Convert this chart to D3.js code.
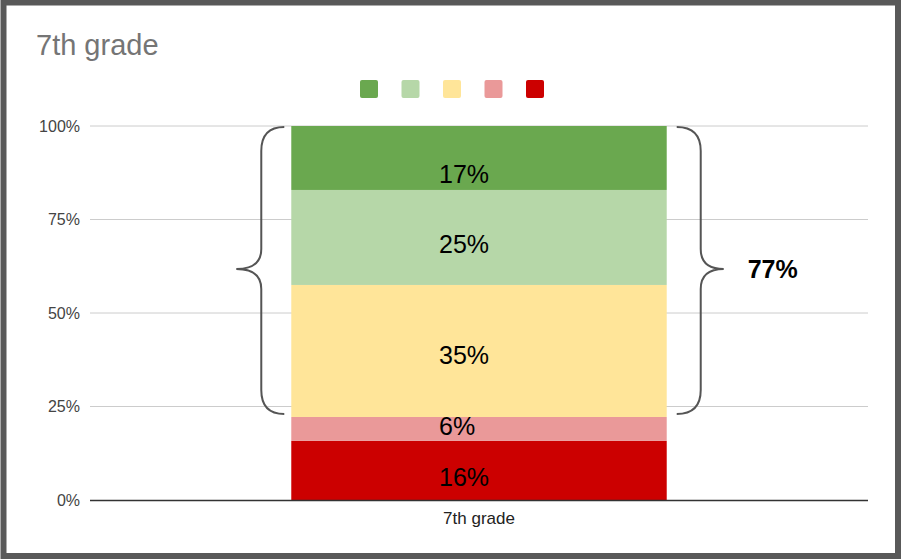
<!DOCTYPE html>
<html>
<head>
<meta charset="utf-8">
<script src="https://cdn.jsdelivr.net/npm/d3@7"></script>
<style>
  html, body { margin: 0; padding: 0; background: #fff; }
  svg { display: block; font-family: "Liberation Sans", Arial, sans-serif; }
</style>
</head>
<body>
<svg id="chart" width="903" height="560"></svg>
<script>
// ---- data ----
const categories = ["7th grade"];
const seriesNames = ["Level 1", "Level 2", "Level 3", "Level 4", "Level 5"]; // bottom to top
const seriesValues = [0.158, 0.064, 0.353, 0.254, 0.171];
const seriesLabels = ["16%", "6%", "35%", "25%", "17%"];
const seriesColors = ["#cc0000", "#ea9999", "#ffe599", "#b6d7a8", "#6aa84f"];
const yTicks = [0, 0.25, 0.5, 0.75, 1];
const yTickLabels = ["0%", "25%", "50%", "75%", "100%"];
const braceFromSeries = 2;   // brace spans series index 2..4
const braceLabel = "77%";
const title = "7th grade";

// ---- layout ----
const W = 903, H = 560;
const plot = { left: 90, right: 868, top: 126, bottom: 500 };
const labelNudge = [7, -3, 4, 7, 16];

const svg = d3.select("#chart");

// border
svg.append("rect")
  .attr("x", 3.5).attr("y", 2.5)
  .attr("width", 894.5).attr("height", 553.5)
  .attr("fill", "#fff")
  .attr("stroke", "#595959").attr("stroke-width", 6);

// title
svg.append("text")
  .attr("x", 36).attr("y", 55)
  .attr("font-size", 29).attr("fill", "#757575")
  .text(title);

const y = d3.scaleLinear().domain([0, 1]).range([plot.bottom, plot.top]);
const x = d3.scaleBand().domain(categories).range([plot.left, plot.right]).padding(0.349);

// gridlines
svg.append("g").selectAll("line")
  .data(yTicks.filter(d => d > 0))
  .join("line")
  .attr("x1", plot.left).attr("x2", plot.right)
  .attr("y1", d => y(d)).attr("y2", d => y(d))
  .attr("stroke", "#cccccc").attr("stroke-width", 1);

// y axis labels
const yAxis = d3.axisLeft(y).tickValues(yTicks).tickFormat((d, i) => yTickLabels[i]).tickSize(0).tickPadding(10);
const ya = svg.append("g").attr("transform", `translate(${plot.left},0)`).call(yAxis);
ya.select(".domain").remove();
ya.selectAll("text").attr("font-size", 16).attr("fill", "#444").attr("font-family", "Liberation Sans, Arial, sans-serif");

// stacked data
const row = { cat: categories[0] };
seriesNames.forEach((s, i) => row[s] = seriesValues[i]);
const stacked = d3.stack().keys(seriesNames)([row]);

const g = svg.append("g");
g.selectAll("rect")
  .data(stacked)
  .join("rect")
  .attr("x", d => x(d[0].data.cat))
  .attr("width", x.bandwidth())
  .attr("y", d => y(d[0][1]))
  .attr("height", d => y(d[0][0]) - y(d[0][1]))
  .attr("fill", (d, i) => seriesColors[i]);

// value labels (left-aligned, as in the reference)
g.selectAll("text.val")
  .data(stacked)
  .join("text")
  .attr("class", "val")
  .attr("x", d => x(d[0].data.cat) + x.bandwidth() / 2 - 40)
  .attr("y", (d, i) => (y(d[0][0]) + y(d[0][1])) / 2 + labelNudge[i])
  .attr("dy", "0.35em")
  .attr("text-anchor", "start")
  .attr("font-size", 25)
  .attr("fill", "#000")
  .text((d, i) => seriesLabels[i]);

// baseline
svg.append("line")
  .attr("x1", plot.left).attr("x2", plot.right)
  .attr("y1", y(0) + 0.5).attr("y2", y(0) + 0.5)
  .attr("stroke", "#333").attr("stroke-width", 1.3);

// x axis label
const xAxis = d3.axisBottom(x).tickSize(0).tickPadding(12);
const xa = svg.append("g").attr("transform", `translate(0,${plot.bottom})`).call(xAxis);
xa.select(".domain").remove();
xa.selectAll("text").attr("font-size", 17).attr("fill", "#222").attr("font-family", "Liberation Sans, Arial, sans-serif");

// legend
const legendOrder = seriesColors.slice().reverse();
svg.append("g").selectAll("rect")
  .data(legendOrder)
  .join("rect")
  .attr("x", (d, i) => 360 + i * 41.5)
  .attr("y", 80)
  .attr("width", 18).attr("height", 18)
  .attr("rx", 2)
  .attr("fill", d => d);

// braces
const braceTop = y(stacked[stacked.length - 1][0][1]) + 1;
const braceBot = y(stacked[braceFromSeries][0][0]) - 3;
const braceMid = (braceTop + braceBot) / 2 - 1.5;
function brace(ex, vx, tx) {
  const r = 24, m = 20;
  return `M${ex},${braceTop} Q${vx},${braceTop} ${vx},${braceTop + r} L${vx},${braceMid - m} Q${vx},${braceMid} ${tx},${braceMid} Q${vx},${braceMid} ${vx},${braceMid + m} L${vx},${braceBot - r} Q${vx},${braceBot} ${ex},${braceBot}`;
}
const barL = x(categories[0]), barR = barL + x.bandwidth();
svg.append("path").attr("d", brace(barL - 7, barL - 30, barL - 55))
  .attr("fill", "none").attr("stroke", "#555").attr("stroke-width", 2);
svg.append("path").attr("d", brace(barR + 10, barR + 34, barR + 57))
  .attr("fill", "none").attr("stroke", "#555").attr("stroke-width", 2);

svg.append("text")
  .attr("x", barR + 81).attr("y", braceMid + 9)
  .attr("font-size", 25).attr("font-weight", "bold").attr("fill", "#000")
  .text(braceLabel);
</script>
</body>
</html>
